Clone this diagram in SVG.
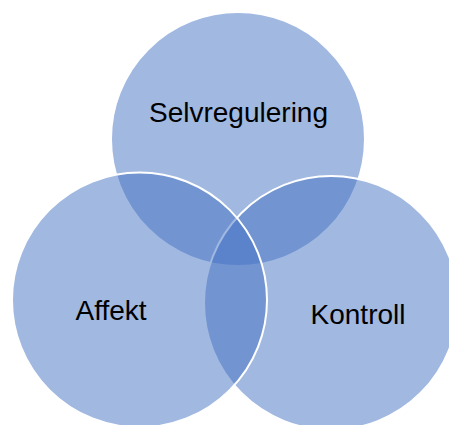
<svg xmlns="http://www.w3.org/2000/svg" width="449" height="425" viewBox="0 0 449 425">
<style>
.c{fill:#4472C4;fill-opacity:0.5;stroke:#FFFFFF;stroke-width:2}
.t{font-family:"Liberation Sans",Arial,sans-serif;font-size:28px;fill:#000000;text-anchor:middle}
</style>
<rect width="449" height="425" fill="#FFFFFF"/>
<g id="selvregulering">
<circle class="c" cx="238" cy="139" r="127"/>
</g>
<g id="kontroll">
<circle class="c" cx="331" cy="303" r="127"/>
</g>
<g id="affekt">
<circle class="c" cx="139.5" cy="300" r="127.5"/>
</g>
<g id="labels">
<text class="t" x="238.5" y="122">Selvregulering</text>
<text class="t" x="111" y="320">Affekt</text>
<text class="t" x="358" y="324">Kontroll</text>
</g>
<g id="connectors"/>
</svg>
